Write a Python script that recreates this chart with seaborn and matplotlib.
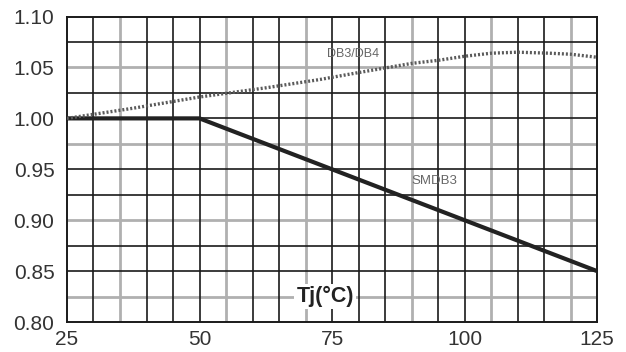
import matplotlib
matplotlib.use("Agg")
import matplotlib.pyplot as plt
import seaborn as sns
import pandas as pd

# Data
smdb3_tj = [25, 50, 125]
smdb3_val = [1.00, 1.00, 0.85]

db34_tj = [25, 37.5, 50, 62.5, 72.5, 80, 90, 95, 100, 105, 110, 116, 120, 125]
db34_val = [1.000, 1.010, 1.021, 1.030, 1.038, 1.045, 1.054, 1.057, 1.061, 1.064, 1.065, 1.064, 1.063, 1.060]

x_ticks = [25, 50, 75, 100, 125]
y_ticks = [0.80, 0.85, 0.90, 0.95, 1.00, 1.05, 1.10]

# grid lines of the scanned chart: dark and grey ones
dark_vlines = [30, 40, 45, 50, 60, 65, 75, 80, 85, 95, 100, 110, 115]
gray_vlines = [35, 55, 70, 90, 105, 120]
dark_hlines = [0.85, 0.875, 0.925, 0.95, 1.00, 1.025, 1.075]
gray_hlines = [0.825, 0.90, 0.975, 1.05]

sns.set_theme(style="white")
plt.rcParams["font.family"] = ["Liberation Sans", "DejaVu Sans"]

fig = plt.figure(figsize=(6.26, 3.52), dpi=100)
ax = fig.add_axes([0.107, 0.085, 0.847, 0.868])

for x in gray_vlines:
    ax.axvline(x, color="#b0b0b0", lw=2.0, zorder=1)
for y in gray_hlines:
    ax.axhline(y, color="#b0b0b0", lw=2.0, zorder=1)
for x in dark_vlines:
    ax.axvline(x, color="#1a1a1a", lw=1.2, zorder=1)
for y in dark_hlines:
    ax.axhline(y, color="#1a1a1a", lw=1.2, zorder=1)

smdb3 = pd.DataFrame({"Tj": smdb3_tj, "val": smdb3_val})
db34 = pd.DataFrame({"Tj": db34_tj, "val": db34_val})
sns.lineplot(data=smdb3, x="Tj", y="val", ax=ax, color="#222222", lw=3, zorder=3)
sns.lineplot(data=db34, x="Tj", y="val", ax=ax, color="#5a5a5a", lw=2.4,
             linestyle=(0, (0.6, 0.6)), zorder=3)

ax.text(79, 1.063, "DB3/DB4", fontsize=9, color="#666666", ha="center", va="center", zorder=4)
ax.text(94.2, 0.939, "SMDB3", fontsize=9.5, color="#666666", ha="center", va="center", zorder=4)
ax.text(73.7, 0.825, "Tj(°C)", fontsize=15.5, fontweight="bold", color="#222222",
        ha="center", va="center", zorder=4,
        bbox=dict(facecolor="white", edgecolor="none", pad=1.5))

ax.set_xlim(25, 125)
ax.set_ylim(0.80, 1.10)
ax.set_xticks(x_ticks)
ax.set_yticks(y_ticks)
ax.set_xticklabels([str(t) for t in x_ticks])
ax.set_yticklabels([f"{t:.2f}" for t in y_ticks])
ax.tick_params(axis="both", labelsize=15, colors="#333333", length=0)
ax.tick_params(axis="x", pad=6)
ax.tick_params(axis="y", pad=9)
ax.set_xlabel("")
ax.set_ylabel("")
for s in ax.spines.values():
    s.set_color("#1a1a1a")
    s.set_linewidth(1.4)

fig.savefig("out.png", dpi=100)
